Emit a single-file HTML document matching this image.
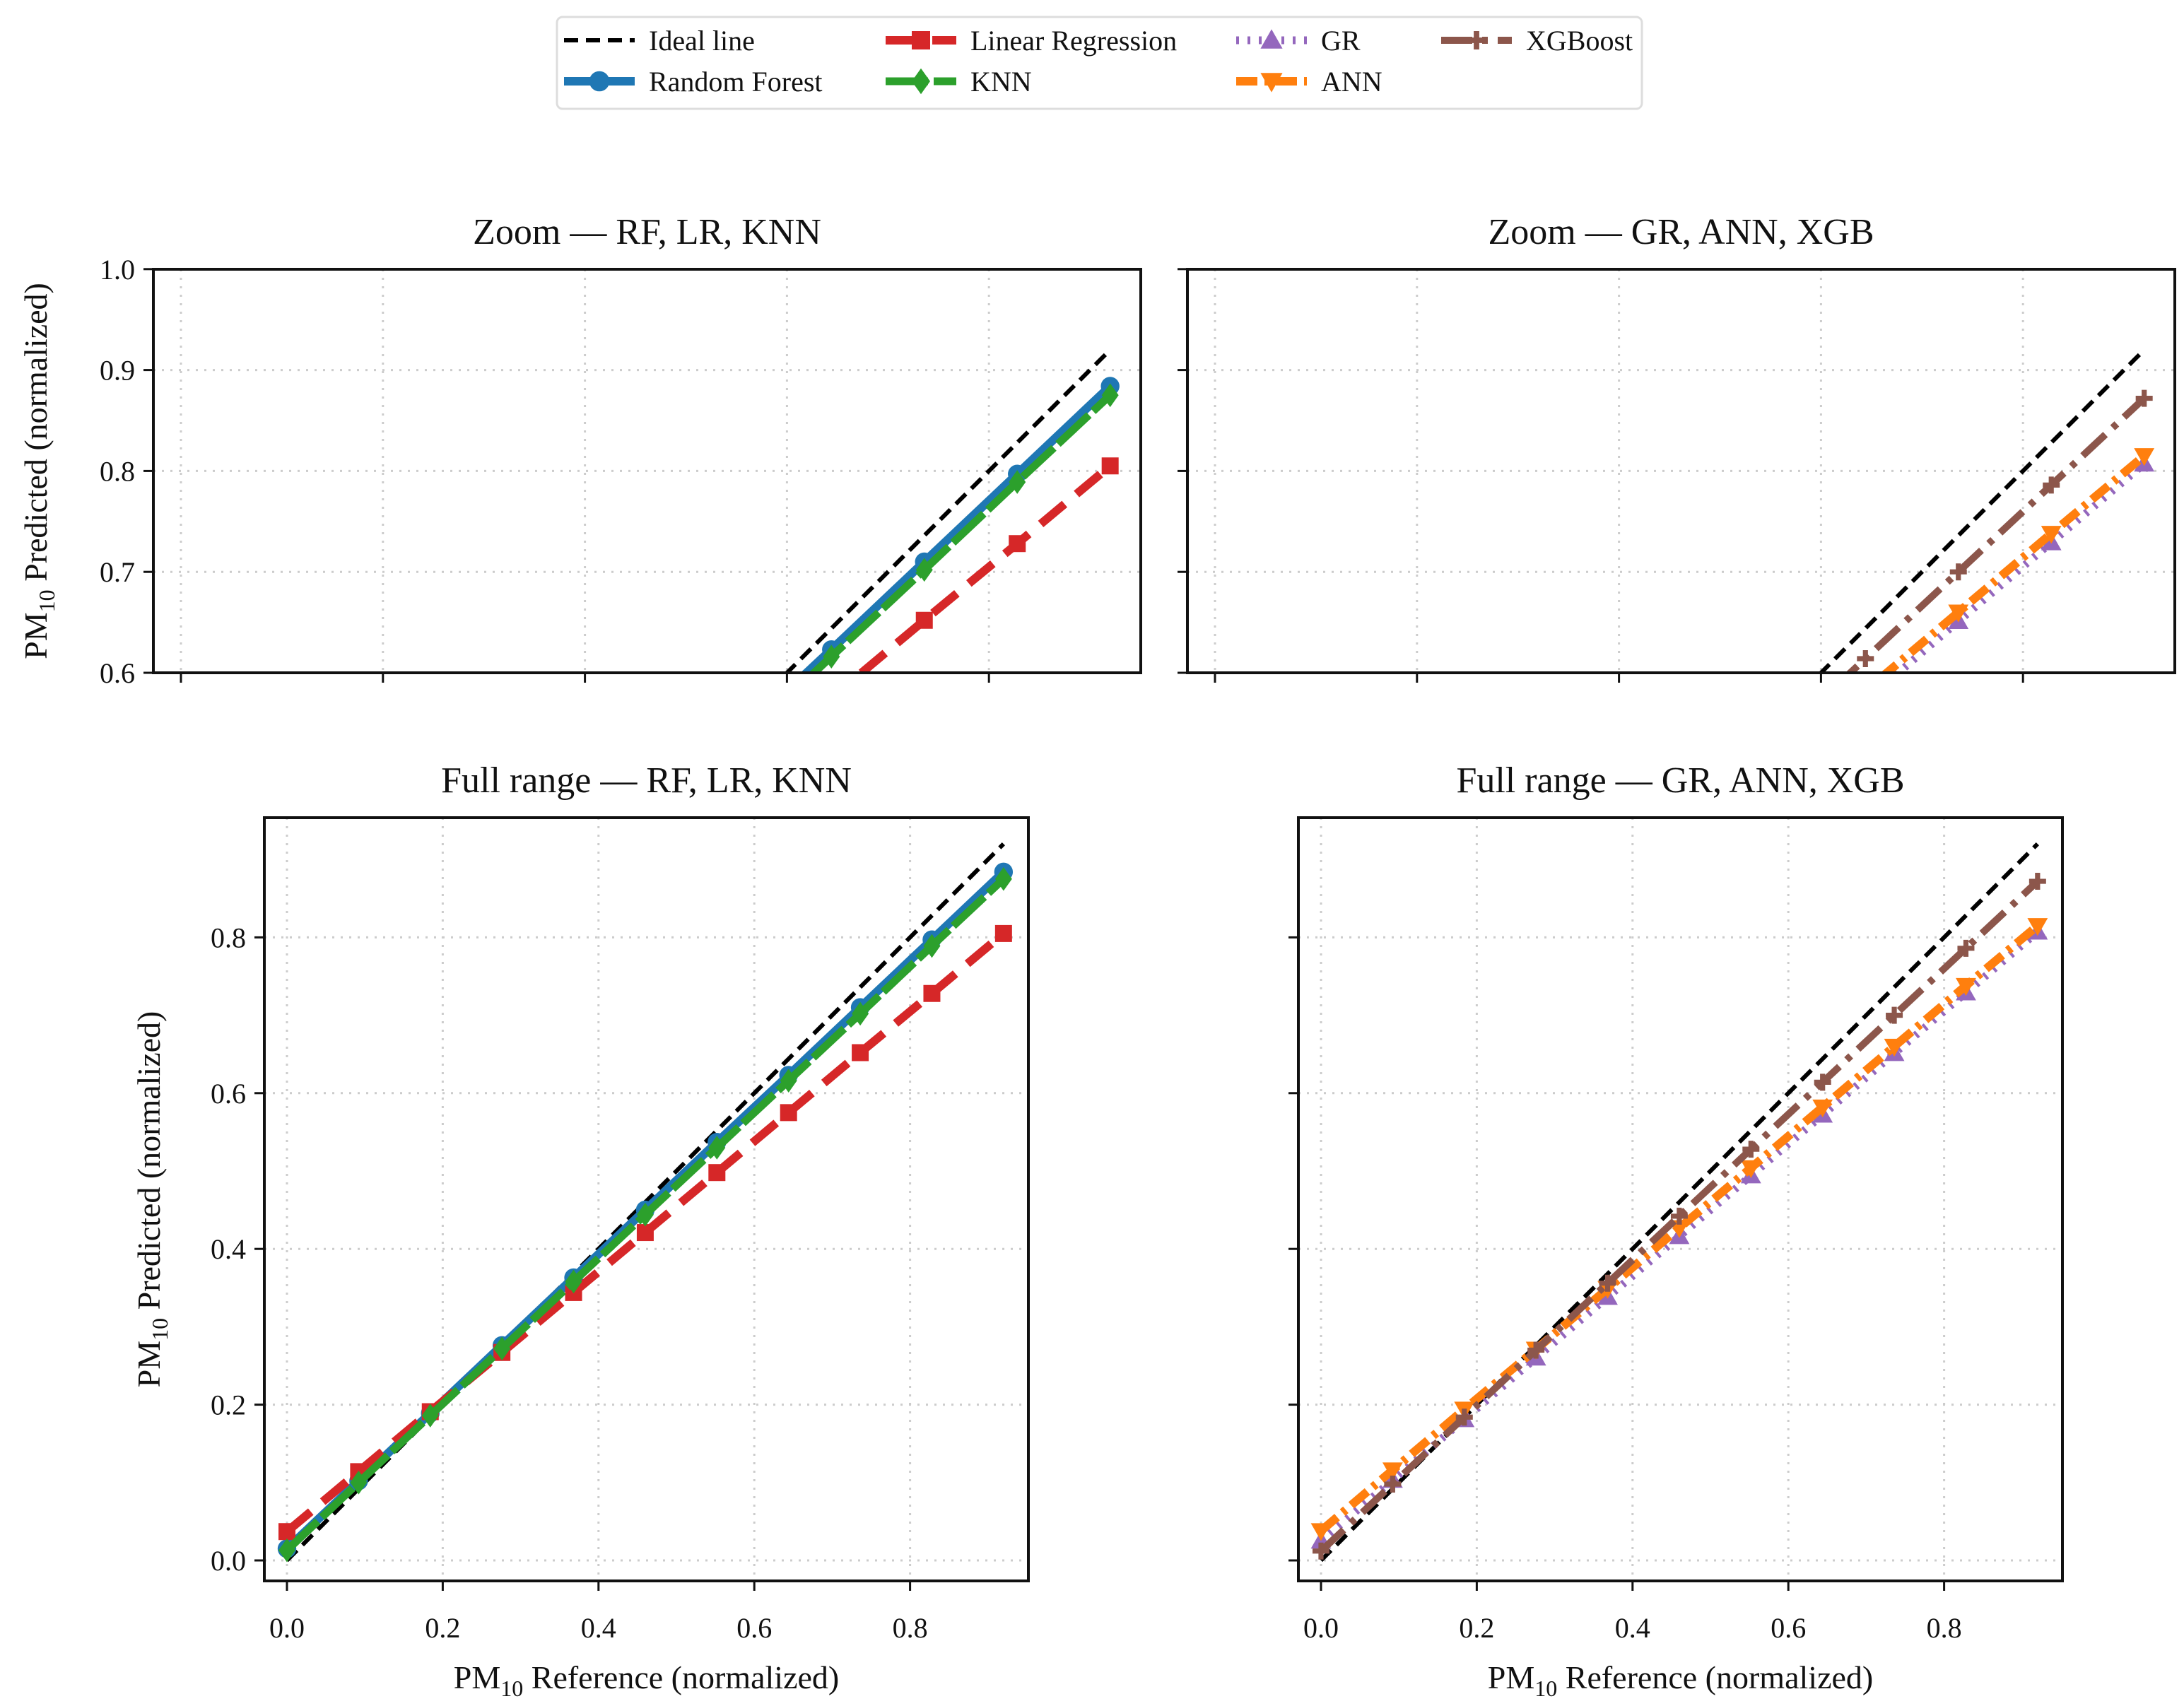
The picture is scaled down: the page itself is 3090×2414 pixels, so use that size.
<!DOCTYPE html>
<html><head><meta charset="utf-8"><style>
html,body{margin:0;padding:0;background:#fff}
svg{display:block}
text{font-family:"Liberation Serif",serif;fill:#111}
</style></head><body>
<svg id="chart" width="3090" height="2414" viewBox="0 0 3090 2414" xmlns="http://www.w3.org/2000/svg"></svg>
<script>
const xs = [0,0.092,0.184,0.276,0.368,0.46,0.552,0.644,0.736,0.828,0.92];
const idealVals = [0,0.092,0.184,0.276,0.368,0.46,0.552,0.644,0.736,0.828,0.92];
const rfVals = [0.015,0.102,0.189,0.276,0.363,0.450,0.537,0.623,0.710,0.797,0.884];
const knnVals = [0.013,0.100,0.186,0.272,0.358,0.444,0.530,0.616,0.702,0.789,0.875];
const lrVals = [0.037,0.114,0.191,0.267,0.344,0.421,0.498,0.575,0.652,0.728,0.805];
const grVals = [0.025,0.103,0.181,0.260,0.338,0.416,0.494,0.572,0.651,0.729,0.807];
const annVals = [0.038,0.116,0.194,0.271,0.349,0.427,0.504,0.582,0.660,0.738,0.815];
const xgbVals = [0.012,0.098,0.184,0.270,0.356,0.442,0.528,0.614,0.700,0.786,0.872];
const xTicks = [0,0.2,0.4,0.6,0.8];
const xTickLabels = ["0.0","0.2","0.4","0.6","0.8"];
const zoomYTicks = [0.6,0.7,0.8,0.9,1.0];
const zoomYTickLabels = ["0.6","0.7","0.8","0.9","1.0"];
const fullYTicks = [0,0.2,0.4,0.6,0.8];
const fullYTickLabels = ["0.0","0.2","0.4","0.6","0.8"];

const NS="http://www.w3.org/2000/svg";
const svg=document.getElementById('chart');
function mk(tag,attrs,parent){const e=document.createElementNS(NS,tag);for(const k in attrs)e.setAttribute(k,attrs[k]);(parent||svg).appendChild(e);return e;}

const styles={
 ideal:{color:'#000',w:6,dash:'20 11',marker:null,label:'Ideal line'},
 rf:{color:'#1f77b4',w:12,dash:null,marker:'circle',label:'Random Forest'},
 lr:{color:'#d62728',w:12,dash:'44 22',marker:'square',label:'Linear Regression'},
 knn:{color:'#2ca02c',w:11,dash:'60 8',marker:'diamond',label:'KNN'},
 gr:{color:'#9467bd',w:11,dash:'4 12',marker:'tri-up',label:'GR'},
 ann:{color:'#ff7f0e',w:12,dash:'30 10 6 10',marker:'tri-down',label:'ANN'},
 xgb:{color:'#8c564b',w:10,dash:'44 14 8 14',marker:'plus',label:'XGBoost'}
};
const vals={ideal:idealVals,rf:rfVals,lr:lrVals,knn:knnVals,gr:grVals,ann:annVals,xgb:xgbVals};

function marker(g,type,x,y,c,s){
 if(type==='circle')return mk('circle',{cx:x,cy:y,r:s*0.55,fill:c},g);
 if(type==='square')return mk('rect',{x:x-s/2,y:y-s/2,width:s,height:s,fill:c},g);
 if(type==='diamond')return mk('polygon',{points:`${x},${y-s*0.7} ${x+s*0.5},${y} ${x},${y+s*0.7} ${x-s*0.5},${y}`,fill:c},g);
 if(type==='tri-up')return mk('polygon',{points:`${x},${y-s*0.6} ${x+s*0.6},${y+s*0.45} ${x-s*0.6},${y+s*0.45}`,fill:c},g);
 if(type==='tri-down')return mk('polygon',{points:`${x},${y+s*0.6} ${x+s*0.6},${y-s*0.45} ${x-s*0.6},${y-s*0.45}`,fill:c},g);
 if(type==='plus'){return mk('path',{d:`M${x-s/2},${y}H${x+s/2}M${x},${y-s/2}V${y+s/2}`,stroke:c,'stroke-width':s*0.3},g);}
}

let clipId=0;
function panel(name,L,R,T,B,x0,xs1,y0,ys1,yt,ytl,showX,showY,title,series,yLabelX){
 const g=mk('g',{});
 
 
 const X=v=>x0+v*xs1, Y=v=>y0-v*ys1;
 const grid=mk('g',{},g);
 
 
 xTicks.forEach(t=>mk('line',{x1:X(t),x2:X(t),y1:T,y2:B,stroke:'#ccc','stroke-width':3,'stroke-dasharray':'3 9'},grid));
 yt.forEach(t=>{if(Y(t)>T+2&&Y(t)<B-2)mk('line',{x1:L,x2:R,y1:Y(t),y2:Y(t),stroke:'#ccc','stroke-width':3,'stroke-dasharray':'3 9'},grid)});
 const cid='clip'+(clipId++);
 const cp=mk('clipPath',{id:cid},g);mk('rect',{x:L,y:T,width:R-L,height:B-T},cp);
 const sg=mk('g',{'clip-path':`url(#${cid})`},g);
 series.forEach(k=>{
  const st=styles[k],vs=vals[k];
  const sgg=mk('g',{},sg);
  
  
  const pts=xs.map((x,i)=>X(x)+','+Y(vs[i])).join(' ');
  const pl=mk('polyline',{points:pts,fill:'none',stroke:st.color,'stroke-width':st.w},sgg);
  if(st.dash)pl.setAttribute('stroke-dasharray',st.dash);
  if(st.marker)xs.forEach((x,i)=>{const m=marker(sgg,st.marker,X(x),Y(vs[i]),st.color,24);});
 });
 mk('rect',{x:L,y:T,width:R-L,height:B-T,fill:'none',stroke:'#111','stroke-width':4},g);
 xTicks.forEach((t,i)=>{mk('line',{x1:X(t),x2:X(t),y1:B,y2:B+14,stroke:'#111','stroke-width':3},g);
  if(showX){const tx=mk('text',{x:X(t),y:B+80,'text-anchor':'middle','font-size':40},g);tx.textContent=xTickLabels[i];}});
 yt.forEach((t,i)=>{mk('line',{x1:L-14,x2:L,y1:Y(t),y2:Y(t),stroke:'#111','stroke-width':3},g);
  if(showY){const tx=mk('text',{x:L-26,y:Y(t)+14,'text-anchor':'end','font-size':40},g);tx.textContent=ytl[i];}});
 const tt=mk('text',{x:(L+R)/2,y:T-36,'text-anchor':'middle','font-size':52},g);tt.textContent=title;
 
 if(showY){const yl=mk('text',{x:0,y:0,'text-anchor':'middle','font-size':46,transform:`translate(${yLabelX},${(T+B)/2}) rotate(-90)`},g);
  yl.innerHTML='PM<tspan font-size="32" dy="11">10</tspan><tspan dy="-11"> Predicted (normalized)</tspan>';
  }
 if(showX){const xl=mk('text',{x:(L+R)/2,y:B+152,'text-anchor':'middle','font-size':46},g);
  xl.innerHTML='PM<tspan font-size="32" dy="11">10</tspan><tspan dy="-11"> Reference (normalized)</tspan>';
  }
}
const zs1=1429, zy0=952+0.6*1428, zys=1428;
panel('zoom-panel-rf-lr-knn',217,1614,381,952,256,zs1,zy0,zys,zoomYTicks,zoomYTickLabels,false,true,'Zoom — RF, LR, KNN',['ideal','rf','lr','knn'],66);
panel('zoom-panel-gr-ann-xgb',1680,3077,381,952,256+1463,zs1,zy0,zys,zoomYTicks,zoomYTickLabels,false,false,'Zoom — GR, ANN, XGB',['ideal','gr','ann','xgb'],0);
panel('full-panel-rf-lr-knn',374,1455,1157,2237,406,1102,2208,1102,fullYTicks,fullYTickLabels,true,true,'Full range — RF, LR, KNN',['ideal','rf','lr','knn'],226);
panel('full-panel-gr-ann-xgb',1837,2918,1157,2237,406+1463,1102,2208,1102,fullYTicks,fullYTickLabels,true,false,'Full range — GR, ANN, XGB',['ideal','gr','ann','xgb'],0);

const lg=mk('g',{});


mk('rect',{x:788,y:24,width:1535,height:130,rx:8,fill:'#fff',stroke:'#ddd','stroke-width':3},lg);
const entries=[['ideal',798,57],['rf',798,115],['lr',1253,57],['knn',1253,115],['gr',1749,57],['ann',1749,115],['xgb',2039,57]];
entries.forEach(([k,x,y])=>{
 const st=styles[k];
 const e=mk('g',{},lg);
 
 
 const l=mk('line',{x1:x,x2:x+100,y1:y,y2:y,stroke:st.color,'stroke-width':st.w},e);
 if(st.dash)l.setAttribute('stroke-dasharray',st.dash);
 if(st.marker)marker(e,st.marker,x+50,y,st.color,26);
 const t=mk('text',{x:x+120,y:y+14,'font-size':40},e);t.textContent=st.label;
});
</script>
</body></html>
